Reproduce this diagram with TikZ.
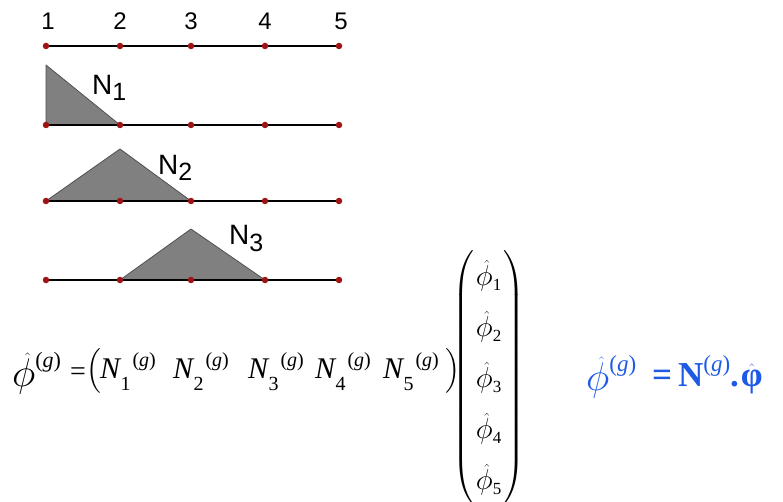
\RequirePackage{fix-cm}
\documentclass[tikz,border=0pt]{standalone}
\usepackage{amsmath}
\usepackage{fontspec}
\newfontfamily\arialf{Liberation Sans}
\newfontfamily\tnrf{Liberation Serif}
\definecolor{dotred}{HTML}{9E1414}
\definecolor{trifill}{HTML}{808080}
\definecolor{triedge}{HTML}{505050}
\definecolor{eqblue}{HTML}{1E5AE6}
\tikzset{
  dotnode/.style={circle,fill=dotred,inner sep=0pt,minimum size=6.5pt},
  axisline/.style={line width=1.4pt,black},
  shapefn/.style={fill=trifill,draw=triedge,line width=0.8pt,line join=round},
  numlabel/.style={anchor=base,inner sep=0pt,font=\arialf\fontsize{24}{24}\selectfont},
  nlabel/.style={anchor=base west,inner sep=0pt,font=\arialf\fontsize{28}{28}\selectfont},
  mathtxt/.style={anchor=base west,inner sep=0pt,font=\fontsize{28}{34}\selectfont},
}
\newcommand{\subnum}[1]{\raisebox{-6pt}{\fontsize{25}{25}\selectfont #1}}
% phi with a hat: #1 skew (mu), #2 size (pt)
\newcommand{\phihat}[2][0]{$\scriptstyle\skew{#1}{\hat}{\mbox{\fontsize{#2}{#2}\selectfont$\phi$}}$}
\newcommand{\phibold}[1]{$\scriptstyle\hat{\mbox{\tnrf\bfseries\fontsize{#1}{#1}\selectfont φ}}$}
\newcommand{\supg}[2]{\raisebox{#2}{\tnrf\fontsize{#1}{#1}\selectfont(\itshape g\/\upshape)}}
\newcommand{\Nent}[1]{{\tnrf\itshape\fontsize{30}{30}\selectfont N}\kern0.5pt\raisebox{-12pt}{\tnrf\fontsize{20}{20}\selectfont #1}\kern2pt\supg{20}{12pt}}
\newcommand{\phient}[1]{\phihat[5]{29}\raisebox{-5pt}{\tnrf\fontsize{17}{17}\selectfont #1}}
\begin{document}
\begin{tikzpicture}[x=1pt,y=-1pt]
\useasboundingbox (0,0) rectangle (783,502);
% triangles (shape functions)
\coordinate (t1) at (46,65);
\coordinate (t2) at (120,149);
\coordinate (t3) at (191,229);
% nodes of the rows
\foreach \r/\y in {a/46,b/125,c/201,d/280}{
  \foreach \i/\x in {1/46,2/120,3/191,4/265,5/339}{
    \coordinate (\r\i) at (\x,\y);
  }
}
\draw[shapefn] (b1) -- (t1) -- (b2) -- cycle;
\draw[shapefn] (c1) -- (t2) -- (c3) -- cycle;
\draw[shapefn] (d2) -- (t3) -- (d4) -- cycle;
\foreach \r in {a,b,c,d}{
  \draw[axisline] (\r1) -- (\r5);
  \foreach \i in {1,...,5}{ \node[dotnode] (\r\i dot) at (\r\i) {}; }
}
% numbers
\foreach \i/\x in {1/48,2/120,3/191,4/265,5/341}{
  \node[numlabel] (num\i) at (\x,30) {\i};
}
% N labels
\node[nlabel] (lN1) at (92,95) {N\subnum{1}};
\node[nlabel] (lN2) at (158,175) {N\subnum{2}};
\node[nlabel] (lN3) at (229,245) {N\subnum{3}};
% row equation
\node[mathtxt] (lhs) at (12,386) {\phihat[7]{40}\supg{22}{19pt}\kern9pt\raisebox{6pt}{\tnrf\fontsize{28}{28}\selectfont=}};
\node[mathtxt] (rowvec) at (86,378) {\fontsize{29.5}{34}\selectfont$\left(\vrule height30pt depth15pt width0pt\mbox{\kern-1pt\makebox[73pt][l]{\Nent{1}}\makebox[75pt][l]{\Nent{2}}\makebox[67pt][l]{\Nent{3}}\makebox[68pt][l]{\Nent{4}}\Nent{5}\kern7pt}\right)$};
\node[anchor=west,inner sep=0pt,font=\fontsize{27}{34}\selectfont] (colvec) at (452,377)
  {$\renewcommand{\arraystretch}{1.5}\setlength{\arraycolsep}{2pt}\left(\begin{array}{c}\mbox{\phient{1}}\\ \mbox{\phient{2}}\\ \mbox{\phient{3}}\\ \mbox{\phient{4}}\\ \mbox{\phient{5}}\end{array}\right)$};
% blue equation
\node[mathtxt,text=eqblue] (blueeq) at (586,390)
  {\phihat[7]{40}\supg{23}{19pt}\kern16pt\raisebox{4pt}{{\tnrf\bfseries\fontsize{35}{35}\selectfont=\kern6pt N}\supg{23}{15pt}{\tnrf\bfseries\fontsize{35}{35}\selectfont.}\kern2pt\phibold{35}}};
\end{tikzpicture}
\end{document}
